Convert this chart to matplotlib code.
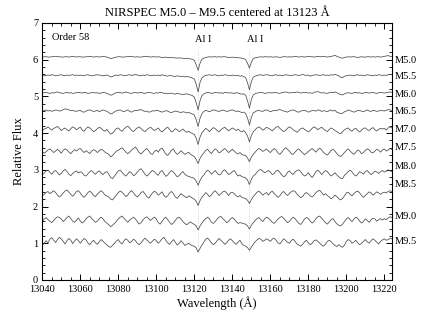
import numpy as np
import matplotlib
matplotlib.use('Agg')
import matplotlib.pyplot as plt
from matplotlib.ticker import MultipleLocator

plt.rcParams['font.family'] = ['Liberation Serif', 'DejaVu Serif']

#---DATA
# wavelength grid (Angstrom), 1 A steps, 13040 - 13224
wave = np.arange(13040, 13225)

types = ['M5.0', 'M5.5', 'M6.0', 'M6.5', 'M7.0', 'M7.5', 'M8.0', 'M8.5', 'M9.0', 'M9.5']
levels = [6.07, 5.57, 5.09, 4.60, 4.10, 3.50, 2.91, 2.34, 1.63, 1.04]
label_y = [5.99, 5.53, 5.04, 4.58, 4.09, 3.60, 3.08, 2.59, 1.74, 1.06]

# flux deviations from continuum, in units of 0.01 (one row = 20 A)
m50 = [0, 1, 1, 0, 0, 1, 1, 2, 1, 1, 0, 0, 1, 1, 0, 1, 2, 1, 0, 1,
       1, 0, 0, 1, 1, 2, 1, 0, 1, 1, 0, 1, 2, 1, 0, -2, -4, -3, -1, 0,
       1, 1, 0, 0, 1, 1, 2, 1, 1, 0, 1, 0, 0, 1, 2, 2, 1, 0, 1, 1,
       0, 1, 0, -1, -1, 0, -1, -2, -1, -2, -2, -3, -2, -3, -3, -4, -3, -4, -5, -6,
       -9, -21, -36, -17, -6, -3, -1, 0, 1, 0, 1, 1, 0, 1, 0, 1, 1, 0, -1, -1,
       0, -1, -1, -2, -2, -3, -4, -7, -17, -30, -14, -4, -2, -1, 0, 1, 0, 1, 1, 0,
       1, 0, 0, 1, 0, -1, 0, 1, 1, 0, 1, 0, 1, 2, 1, 0, 1, 1, 0, 1,
       2, 1, 1, 0, 1, 2, 1, 1, 2, 1, 0, 1, 2, 3, 5, 2, 0, -2, -3, -1,
       0, 1, 0, 1, 1, 0, -1, 0, 1, 0, 0, 1, 1, 0, 1, 0, 1, 1, 0, 1,
       2, 3, 4, 2, 2]
m55 = [0, -1, 0, 1, 0, 2, 1, -1, 0, 1, 2, 0, -1, 1, 0, 1, 2, 0, 1, 0,
       1, 0, -1, 1, 2, 0, -1, 0, 1, 2, 1, 0, -1, 0, 1, -1, -4, -3, 0, 1,
       0, 2, 1, -1, 0, 1, 2, 0, 1, 3, 1, 0, -1, 1, 0, 2, 1, -1, 0, 1,
       0, 1, -1, 2, 0, -1, -2, 0, -1, -2, -3, -1, -2, -3, -2, -4, -3, -4, -5, -7,
       -10, -24, -45, -19, -7, -2, 0, 1, 2, 0, 1, 2, 0, -1, 1, 0, 2, 1, 0, -1,
       1, 0, -1, 0, -2, -1, -3, -6, -20, -39, -17, -5, -2, 0, 1, 2, 0, 1, 2, 1,
       0, -1, 1, 2, 0, 1, -1, 0, 2, 1, 0, -1, 1, 2, 1, 0, 1, 3, 1, 0,
       1, -2, 0, 1, 2, 1, 0, 1, 2, 0, 1, 0, 2, 1, 3, 1, -1, -5, -6, -2,
       -1, 0, 1, 0, -1, 1, 2, 0, 1, -1, 0, 2, 1, 0, -1, 1, 0, 2, 1, 0,
       1, 0, 2, 3, 2]
m60 = [0, 1, 2, 0, -1, 1, 0, 2, 3, 1, 0, -1, 1, 2, 0, 1, -1, 0, 1, 2,
       1, 0, 2, 1, -1, 0, 1, 2, 0, 1, -1, 0, 2, 1, -1, -3, -6, -4, -1, 1,
       2, 1, 0, 1, 3, 1, 0, -1, 1, 2, 0, 1, 2, 0, -1, 1, 2, 1, 0, -1,
       1, 0, 2, 1, -1, 0, -2, -1, 0, -2, -3, -1, -2, -3, -4, -3, -2, -4, -5, -7,
       -11, -26, -46, -21, -7, -2, 0, 2, 1, -1, 0, 2, 1, 0, 1, -1, 2, 1, 0, 1,
       0, -1, 1, 0, -2, -3, -2, -6, -21, -41, -18, -5, -2, 0, 1, 2, 1, -1, 0, 1,
       1, 0, 2, 1, 0, -1, 1, 2, 3, 2, 0, 1, 2, 1, 3, 2, 0, 1, 2, 1,
       0, 1, -1, 2, 3, 4, 2, 0, 1, 0, -1, 1, 2, 1, 3, 1, -2, -4, -5, -2,
       0, 1, 0, -1, 1, 2, 0, 1, -1, 0, 2, 1, 0, 1, 2, 0, -1, 1, 2, 1,
       0, 1, 2, 3, 2]
m65 = [-1, 1, 3, 0, 2, -1, 1, 3, 2, 0, 1, 4, 6, 5, 3, 1, 2, 0, -1, 1,
       2, -2, -3, 0, 2, 3, 1, -1, 0, 2, -2, 1, 3, 1, -1, -4, -8, -6, -2, 1,
       2, 3, 0, -2, 1, 3, -1, -3, 0, 2, 1, 3, 4, 1, -1, 0, -3, -2, 1, 0,
       2, 1, -1, -3, -1, 1, 0, -3, -4, -2, 0, -1, -3, -4, -2, -3, -5, -4, -6, -8,
       -11, -24, -42, -20, -7, -1, 2, 0, -2, 1, 3, 2, 0, -1, 1, 3, 1, -1, 0, 2,
       3, 1, -1, 0, -2, -4, -3, -7, -19, -38, -17, -5, -2, 1, 2, 0, -1, 2, 3, 1,
       -2, 0, 2, 1, 3, 4, 2, 0, -1, -3, 0, 2, 3, 1, -2, -3, 0, 1, 2, 0,
       -3, -1, 2, 1, 0, 3, 2, -1, 1, 0, -2, 1, 3, 0, 2, -3, -5, -7, -6, -2,
       0, 3, 1, -1, -3, -1, 2, 1, 0, -2, 1, 3, 0, -1, 2, 1, -1, 0, 2, 1,
       0, 2, 4, 3, 2]
m70 = [-4, 1, 3, 7, 2, -2, 3, 5, 8, 3, -3, 1, 4, -1, -4, 2, 7, 4, -1, 3,
       6, -2, -5, 2, 7, 4, -1, -6, -3, 2, 6, 3, -2, -5, 0, -7, -13, -10, -4, 2,
       4, -2, -5, 1, 6, 9, 4, -3, -6, 0, 4, 7, 2, -3, -6, -1, 3, 6, 1, -3,
       0, 4, -3, -7, -2, 3, 6, 0, -7, -4, 2, -1, -6, -3, 1, -4, -8, -5, -9, -11,
       -14, -24, -41, -21, -9, -3, 3, -1, -6, 0, 5, 2, -3, -7, -1, 3, 6, 1, -4, 0,
       4, 1, -3, 1, -4, -7, -3, -9, -18, -34, -17, -7, -1, 4, 7, 3, -2, 1, 6, 3,
       0, -4, 1, 6, 8, 3, -2, -6, -3, 3, 7, 4, -1, -4, -8, -3, 2, 4, 0, -3,
       -7, -3, 3, 7, 4, -1, 3, 6, 1, -3, -6, 0, 4, 1, -3, -6, -10, -12, -6, -1,
       2, 4, -2, -5, 1, 3, -3, -7, -2, 3, 4, -1, -3, 2, 5, -1, -4, 0, 3, 1,
       3, -2, 4, 7, 4]
m75 = [0, -5, -1, 4, 7, 2, -3, 1, 6, 1, -5, 3, 7, 4, -2, -6, 0, 5, 1, 6,
       8, 2, -3, 2, -2, -6, 1, 5, 2, -3, 2, 6, 3, -2, -5, -8, -15, -11, -5, 1,
       3, 7, 10, 4, -2, -6, -2, 4, 8, 12, 5, -3, -7, -1, 4, 8, 2, -6, -8, 0,
       4, -2, 6, 9, 1, -7, -11, -4, 3, 7, -3, -8, -4, 2, -3, -8, -5, -2, -8, -11,
       -14, -22, -33, -19, -10, -4, 3, 6, -1, -6, 2, 7, 3, -4, -1, 4, 8, 3, -3, 1,
       6, 1, -4, -7, -3, -8, -10, -11, -18, -28, -16, -8, -2, 4, 8, 5, 0, 3, 7, 1,
       -3, 3, 8, 4, -4, -8, -2, 5, 10, 6, 1, -6, -8, -2, 4, 7, 1, -4, -9, -5,
       0, 4, 8, 3, -2, 5, 9, 4, -3, -7, -10, -4, 3, 6, 1, -6, -11, -14, -9, -3,
       3, 7, 1, -4, -8, -2, 4, 1, -6, -3, 3, 7, 4, -2, -4, 1, 6, 3, -2, 4,
       7, 1, 4, 8, 5]
m80 = [-4, 0, 6, 8, 2, -3, 4, 7, 1, -5, -1, 6, 10, 4, -3, -7, -1, 3, 6, 0,
       4, 1, -6, -8, -2, 4, 7, 1, -3, 3, 6, 0, -4, 2, 4, -3, -12, -15, -8, -1,
       6, 8, 2, -4, -8, -2, 4, 0, -7, -4, 3, 9, 12, 5, -3, -8, -4, 3, 7, 4,
       -2, -6, 3, 7, -1, -9, -5, 2, 7, 3, -4, -10, -7, 0, 4, -3, -7, -9, -11, -12,
       -15, -22, -33, -20, -11, -5, 3, 8, 4, -3, 2, 7, 0, -5, -3, 6, 9, 3, -4, -1,
       4, 7, -1, -8, -5, -10, -11, -13, -19, -31, -17, -8, -4, 3, 8, 10, 5, 1, 4, 7,
       3, -4, -1, 6, 8, 2, -5, -10, -7, 2, 6, 0, -4, 3, 7, 9, 4, -3, -8, -5,
       1, -7, -12, -5, 4, 8, 3, -4, 2, 7, 4, -3, -8, -4, 1, -5, -10, -14, -15, -6,
       -1, 4, 8, 3, -4, -8, -3, 4, 1, -3, 4, 7, 1, -4, 0, 5, 3, -1, 4, 7,
       3, 5, 9, 6, 4]
m85 = [-5, -1, 4, 7, 1, 5, 9, 4, -3, -8, -4, 3, 8, 11, 5, -1, -6, 0, 7, 9,
       3, -5, -9, -3, 4, 8, 3, -4, -7, 0, 5, 9, 4, -3, -5, -8, -14, -16, -9, -3,
       4, 8, 5, -1, -7, -3, 5, 9, 3, -4, -8, -3, 4, 7, 1, -7, -11, -4, 3, 8,
       4, -3, 1, 6, -4, -9, -5, 3, 7, 1, -8, -12, -5, 1, -3, -7, -10, -5, -8, -11,
       -14, -20, -31, -18, -9, -3, 4, -1, -7, -3, 5, 9, 3, -4, 1, 6, 8, 3, -4, 3,
       5, 1, -5, -8, -4, -9, -11, -12, -17, -26, -15, -7, -1, 5, 8, 3, -3, 1, 4, -3,
       4, 8, 1, -4, -9, -5, 3, 7, 1, -4, 1, 6, 9, 7, 0, -5, -10, -7, 1, 4,
       0, -5, -8, -3, 4, 8, 10, 4, -3, 1, -4, -8, -13, -9, -3, -7, -13, -16, -12, -5,
       3, 5, -1, -5, 1, 6, 8, 3, -4, -9, -4, 1, 6, 3, -3, 1, 6, 3, -1, 3,
       5, 3, 7, 9, 6]
m90 = [-4, 3, 7, 1, -3, -7, -1, 5, 9, 7, 3, -4, 1, 7, 11, 4, -3, -6, 0, 6,
       -3, -8, -4, 3, 8, 11, 4, -1, -6, -3, 4, 8, 3, -4, -8, -13, -18, -14, -9, -3,
       3, 8, 11, 5, -1, -6, 0, 4, 8, 3, -4, -11, -7, 1, 6, 9, 4, -1, 4, 8,
       3, -7, -11, -4, 4, 8, 1, -6, -12, -8, -1, 6, 8, 3, -4, -9, -13, -8, -5, -9,
       -12, -16, -27, -16, -8, -1, 4, 8, 3, -6, -9, -4, 3, 8, 10, 4, -1, -7, -4, 3,
       7, 3, -4, -9, -7, -8, -10, -11, -16, -24, -14, -7, -1, 4, 7, 1, -4, 3, 8, 5,
       0, -6, -9, -4, 3, 7, 10, 5, -1, -7, -4, 3, 8, 4, -3, -9, -12, -5, 3, 7,
       4, -3, -8, -4, 4, 9, 11, 5, -1, -7, -11, -5, 1, 4, -4, -10, -14, -16, -11, -4,
       3, 7, 1, -4, 3, 8, 5, -3, -8, -4, 3, -1, -6, 1, 5, 3, -3, 1, 4, 0,
       4, 1, 6, 9, 7]
m95 = [-10, -4, 3, -3, 7, 11, 4, -2, 6, 12, 8, 1, -6, 3, 9, 4, -5, 2, 8, 3,
       -4, 3, 9, 5, -3, -8, -1, 4, -3, -7, 0, 6, 1, -4, -9, -13, -15, -10, -4, 2,
       6, -2, -6, 3, 8, 4, -3, 1, 7, 3, -4, -8, -3, 4, 10, 5, 0, -4, 2, 7,
       3, -4, 1, 8, 12, 4, -3, -7, 0, 6, -1, -9, -5, 3, -3, -10, -7, -4, -8, -11,
       -12, -17, -28, -18, -9, -1, 7, 10, 4, -3, -8, -4, 3, 9, 4, -1, -7, -3, 4, 8,
       3, -3, -7, -1, 4, -5, -10, -12, -16, -23, -15, -7, 0, 5, 9, 7, 1, 4, 8, 5,
       1, 7, 10, 4, -3, -6, 1, 8, 4, -1, -4, 3, 7, 1, -6, -9, -12, -7, 0, 4,
       -3, -8, -4, 3, 5, 1, -4, -9, -12, -7, 1, 4, 0, -6, -10, -13, -8, -12, -15, -9,
       1, 6, 3, -4, -1, 4, -3, -8, -4, 1, 6, 0, -4, 3, 8, 4, -1, -6, 1, 5,
       8, 4, 6, 9, 8]

spectra = [m50, m55, m60, m65, m70, m75, m80, m85, m90, m95]

al_lines = [13122, 13149]

#---PLOT
fig = plt.figure(figsize=(4.36, 3.10), dpi=100)
ax = fig.add_axes([0.097, 0.097, 0.802, 0.829])

for lam in al_lines:
    ax.plot([lam, lam], [0.76, 6.25], color='#c8c8c8', lw=0.6, ls=':', zorder=1)
    ax.text(lam - 1.5, 6.42, 'Al I', fontsize=7.5, ha='left', va='bottom')

for lev, dev, sp, ly in zip(levels, spectra, types, label_y):
    assert len(dev) == len(wave), sp
    ax.plot(wave, lev + np.array(dev) / 100.0, color='#4a4a4a', lw=0.55, zorder=2)
    ax.text(1.008, ly, sp, transform=ax.get_yaxis_transform(), fontsize=7.5,
            ha='left', va='center', clip_on=False)

ax.text(13045, 6.6, 'Order 58', fontsize=7.5, ha='left', va='center')

ax.set_xlim(13040, 13224)
ax.set_ylim(0, 7)
ax.xaxis.set_major_locator(MultipleLocator(20))
ax.xaxis.set_minor_locator(MultipleLocator(5))
ax.yaxis.set_major_locator(MultipleLocator(1))
ax.yaxis.set_minor_locator(MultipleLocator(0.2))
ax.tick_params(which='both', direction='in', top=True, right=True, labelsize=7.5)
ax.tick_params(axis='x', pad=4)
ax.tick_params(axis='y', pad=3)
ax.tick_params(which='major', length=4, width=0.7)
ax.tick_params(which='minor', length=2, width=0.6)
for s in ax.spines.values():
    s.set_linewidth(0.8)

ax.set_xlabel('Wavelength (Å)', fontsize=9, labelpad=1)
ax.set_ylabel('Relative Flux', fontsize=9, labelpad=6)
ax.set_title('NIRSPEC M5.0 – M9.5 centered at 13123 Å', fontsize=9, pad=5)

fig.savefig('out.png', dpi=100)
